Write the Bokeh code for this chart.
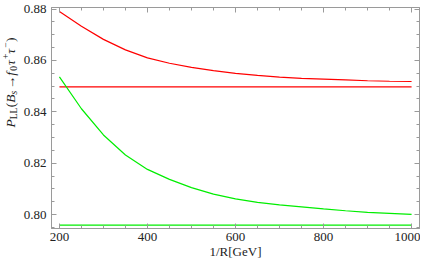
import numpy as np
from bokeh.plotting import figure
from bokeh.layouts import row
from bokeh.models import Range1d, LinearAxis, FixedTicker, Label
from bokeh.embed import file_html
from bokeh.resources import INLINE

# ---- data ----
inv_R = [200, 250, 300, 350, 400, 450, 500, 550, 600, 650, 700, 750, 800, 850, 900, 950, 1000]
red_curve = [0.8790, 0.8733, 0.8682, 0.8641, 0.8610, 0.8589, 0.8573, 0.8560, 0.8550,
             0.8542, 0.8535, 0.8530, 0.8527, 0.8524, 0.8521, 0.8519, 0.8518]
green_curve = [0.8536, 0.8412, 0.8310, 0.8232, 0.8176, 0.8137, 0.8105, 0.8080, 0.8061,
               0.8048, 0.8038, 0.8030, 0.8022, 0.8015, 0.8009, 0.8005, 0.8001]
flat_x = [200, 1000]
red_flat = [0.8497, 0.8497]
green_flat = [0.7959, 0.7959]

x_ticks = [200, 400, 600, 800, 1000]
y_ticks = [0.80, 0.82, 0.84, 0.86, 0.88]
y_tick_labels = ["0.80", "0.82", "0.84", "0.86", "0.88"]
x_label = "1/R[GeV]"

FONT = "serif"
FRAME = "#9a9a9a"
TXT = "#222222"
H = 262
LAB_W = 20

p = figure(width=420 - LAB_W, height=H, output_backend="svg", toolbar_location=None,
           x_range=Range1d(182, 1018), y_range=Range1d(0.7946, 0.8806),
           min_border_left=28, min_border_right=1, min_border_top=7, min_border_bottom=34,
           background_fill_color="white", border_fill_color="white")
p.xgrid.visible = False
p.ygrid.visible = False
p.outline_line_color = FRAME

x_minor = list(np.arange(200, 1001, 50))
y_minor = [round(v, 3) for v in np.arange(0.795, 0.8806, 0.005)]
xt = FixedTicker(ticks=x_ticks, minor_ticks=x_minor)
yt = FixedTicker(ticks=y_ticks, minor_ticks=y_minor)


def style(ax, show_labels, standoff=5):
    ax.axis_line_color = FRAME
    ax.major_tick_line_color = FRAME
    ax.minor_tick_line_color = FRAME
    ax.major_tick_in = 5
    ax.major_tick_out = 0
    ax.minor_tick_in = 3
    ax.minor_tick_out = 0
    ax.major_label_text_font = FONT
    ax.axis_label_text_font = FONT
    ax.axis_label_text_font_style = "normal"
    ax.axis_label_text_color = TXT
    ax.axis_label_text_font_size = "13px"
    if show_labels:
        ax.major_label_text_font_size = "13px"
        ax.major_label_text_color = TXT
        ax.major_label_standoff = standoff
    else:
        ax.major_label_text_font_size = "1px"
        ax.major_label_text_color = None
        ax.major_label_standoff = 0


xa = p.xaxis[0]
xa.ticker = xt
style(xa, True, standoff=4)
xa.axis_label = x_label
xa.axis_label_standoff = 0

ya = p.yaxis[0]
ya.ticker = yt
style(ya, True, standoff=5)
ya.major_label_overrides = {t: s for t, s in zip(y_ticks, y_tick_labels)}

top = LinearAxis(ticker=xt)
style(top, False)
p.add_layout(top, "above")
right = LinearAxis(ticker=yt)
style(right, False)
p.add_layout(right, "right")

p.line(inv_R, red_curve, line_color="#ff0000", line_width=1.2)
p.line(flat_x, red_flat, line_color="#ff0000", line_width=1.2)
p.line(inv_R, green_curve, line_color="#00ee00", line_width=1.2)
p.line(flat_x, green_flat, line_color="#00ee00", line_width=1.2)

# narrow companion figure holding the vertical y-axis title (mixed italic / sub / sup)
lab = figure(width=LAB_W, height=H, output_backend="svg", toolbar_location=None,
             x_range=Range1d(0, 1), y_range=Range1d(0, 1),
             x_axis_type=None, y_axis_type=None, min_border=0,
             outline_line_color=None, background_fill_color="white", border_fill_color="white")
lab.xgrid.visible = False
lab.ygrid.visible = False

base_x = 10.0
start_y = 101.0
pieces = [
    ("P", 13.5, "italic", 0.0, 8.3),
    ("LL", 9.5, "normal", 3.0, 12.0),
    ("(", 13.5, "normal", 0.0, 4.5),
    ("B", 13.5, "italic", 0.0, 8.3),
    ("s", 9.5, "italic", 3.0, 5.2),
    ("\u2192", 13.5, "normal", 0.0, 13.5),
    ("f", 13.5, "italic", 0.0, 5.0),
    ("0", 9.5, "normal", 3.0, 5.6),
    ("\u03c4", 13.5, "italic", 0.0, 6.0),
    ("+", 9.5, "normal", -5.0, 5.4),
    ("\u03c4", 13.5, "italic", 0.0, 6.0),
    ("\u2212", 9.5, "normal", -5.0, 5.6),
    (")", 13.5, "normal", 0.0, 4.5),
]
d = 0.0
for txt, size, fstyle, shift, w in pieces:
    lab.add_layout(Label(x=base_x + shift, y=start_y + d, x_units="screen", y_units="screen",
                         text=txt, angle=np.pi / 2, text_font=FONT, text_font_size=f"{size}px",
                         text_font_style=fstyle, text_color=TXT, text_align="left",
                         text_baseline="alphabetic"))
    d += w

layout = row(lab, p, spacing=0)
open("out.html", "w").write(file_html(layout, INLINE))
